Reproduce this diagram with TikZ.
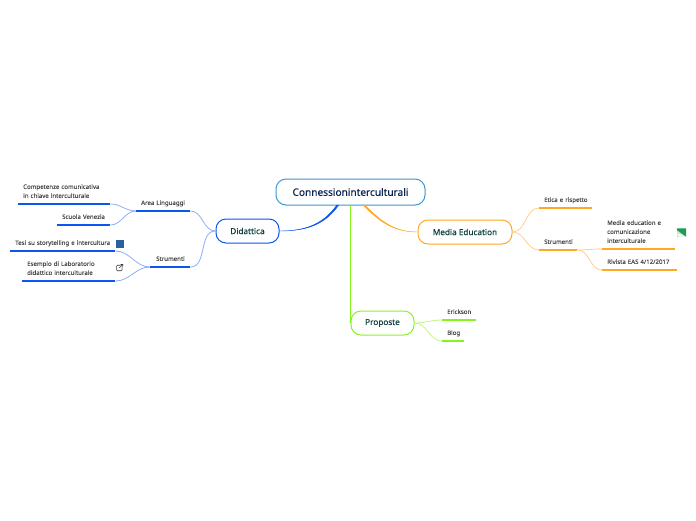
\documentclass[tikz,border=0pt]{standalone}
\usepackage{fontspec}
\setmainfont{Noto Sans}
\newfontfamily\topicfont{Noto Sans}[FakeBold=0.35]
\newfontfamily\leaffont{Noto Sans}[FakeBold=0.05]
\usetikzlibrary{positioning}
\definecolor{mBlue}{HTML}{0B55F0}
\definecolor{mBlueL}{HTML}{8DAEF8}
\definecolor{mOrange}{HTML}{FFA726}
\definecolor{mOrangeL}{HTML}{FFD08C}
\definecolor{mGreen}{HTML}{86F51E}
\definecolor{mGreenL}{HTML}{C0F58C}
\definecolor{mRoot}{HTML}{3E96D2}
\definecolor{mInk}{HTML}{0F4040}
\definecolor{mNavy}{HTML}{0D2350}
\definecolor{mIcon}{HTML}{2A5F9E}
\definecolor{mFlag}{HTML}{1E9A55}
\tikzset{
  topic/.style={draw, rounded corners=10pt, fill=white, line width=1pt, text=mInk, inner sep=0pt, minimum height=24pt, font=\topicfont\fontsize{8.2}{10}\selectfont},
  leaf/.style={anchor=south west, align=left, inner xsep=5pt, inner ysep=3.2pt, text=black!70, font=\leaffont\fontsize{6.1}{9}\selectfont},
  link/.style={line width=0.8pt, out=0, in=180}
}
\begin{document}
\begin{tikzpicture}[x=1pt, y=-1pt]
    \useasboundingbox (0,0) rectangle (696,520);
    \node[topic, draw=mRoot, minimum width=149pt, minimum height=26pt, text=mNavy, font=\topicfont\fontsize{10.1}{12}\selectfont] (root) at (350.5,192) {Connessioninterculturali};
    \node[topic, draw=mBlue, minimum width=63pt] (didattica) at (247.5,231) {Didattica};
    \node[topic, draw=mOrange, minimum width=94pt] (media) at (465,232) {Media Education};
    \node[topic, draw=mGreen, minimum width=63pt] (proposte) at (382.5,323) {Proposte};
    % leaf nodes: name/x/y/text width/text
    \foreach \n/\x/\y/\w/\t in {
      arealing/136/211/44/{\mbox{Area Linguaggi}},
      strumsx/150/267/30/{\mbox{\hspace{1pt}Strumenti}},
      comp/18/204/82/{\mbox{Competenze comunicativa}\\\mbox{in chiave interculturale}},
      scuola/57/225/43/{\mbox{Scuola Venezia}},
      tesi/10/251/95/{\mbox{Tesi su storytelling e intercultura}},
      esempio/22/281/83/{\mbox{Esempio di Laboratorio}\\\mbox{didattico interculturale}},
      etica/539/208/43/{\mbox{Etica e rispetto}},
      strumdx/539/250/28/{\mbox{Strumenti}},
      mediaint/602/249/63/{\mbox{Media education e}\\\mbox{comunicazione}\\\mbox{interculturale}},
      rivista/602/270/65/{\mbox{Rivista EAS 4/12/2017}},
      erickson/442/320/24/{\mbox{Erickson}},
      blog/442/341/12/{\mbox{Blog}}} {
      \node[leaf, text width=\w pt] (\n) at (\x,\y) {\t\strut};
    }
    % main branches
    \coordinate (rootLa) at (336.8,205);
    \coordinate (rootLb) at (338.8,205);
    \coordinate (rootRa) at (362.8,205);
    \coordinate (rootRb) at (364.8,205);
    \draw[mBlue, fill=mBlue, line width=0.4pt] (rootLa) to[out=235, in=0] (didattica.east) to[out=0, in=235] (rootLb) -- cycle;
    \draw[mOrange, fill=mOrange, line width=0.4pt] (rootRa) to[out=-45, in=180] (media.west) to[out=180, in=-45] (rootRb) -- cycle;
    \draw[mGreen, line width=1.4pt] (root.south) -- (root.south |- proposte.west);
    % sub branches
    \foreach \a/\b/\c in {arealing.south east/didattica.west/mBlueL, strumsx.south east/didattica.west/mBlueL,
      comp.south east/arealing.south west/mBlueL, scuola.south east/arealing.south west/mBlueL,
      tesi.south east/strumsx.south west/mBlueL, esempio.south east/strumsx.south west/mBlueL,
      media.east/etica.south west/mOrangeL, media.east/strumdx.south west/mOrangeL,
      strumdx.south east/mediaint.south west/mOrangeL, strumdx.south east/rivista.south west/mOrangeL,
      proposte.east/erickson.south west/mGreenL, proposte.east/blog.south west/mGreenL} {
      \draw[\c, link] (\a) to (\b);
    }
    % underlines on top of the branches
    \foreach \n/\c in {arealing/mBlue, strumsx/mBlue, comp/mBlue, scuola/mBlue, tesi/mBlue, esempio/mBlue,
      etica/mOrange, strumdx/mOrange, mediaint/mOrange, rivista/mOrange, erickson/mGreen, blog/mGreen} {
      \draw[\c, line width=1.6pt] (\n.south west) -- (\n.south east);
    }
    % icons
    \node[fill=mIcon, minimum size=8pt, inner sep=0pt] (tesiicon) at (120,243.5) {};
    \node[draw=black!80, rounded corners=1pt, line width=0.6pt, minimum size=5.5pt, inner sep=0pt] (linkicon) at (119.3,268) {};
    \draw[white, line width=1.6pt] (linkicon.center) -- (linkicon.north east);
    \draw[black!80, line width=0.6pt] (linkicon.center) -- ++(3.5,-3.5) ++(-2.2,0) -- ++(2.2,0) -- ++(0,2.2);
    \node[fill=mFlag!25, minimum width=9pt, minimum height=8pt, inner sep=0pt] (flag) at (681.5,232.5) {};
    \fill[mFlag] (flag.north west) -- (flag.north east) -- (flag.south east) -- ([yshift=2.5pt]flag.west) -- cycle;
    \fill[white] ([yshift=-1pt]flag.west) -- ([xshift=-0.5pt]flag.south east) -- ([xshift=-2pt]flag.south) -- cycle;
\end{tikzpicture}
\end{document}
